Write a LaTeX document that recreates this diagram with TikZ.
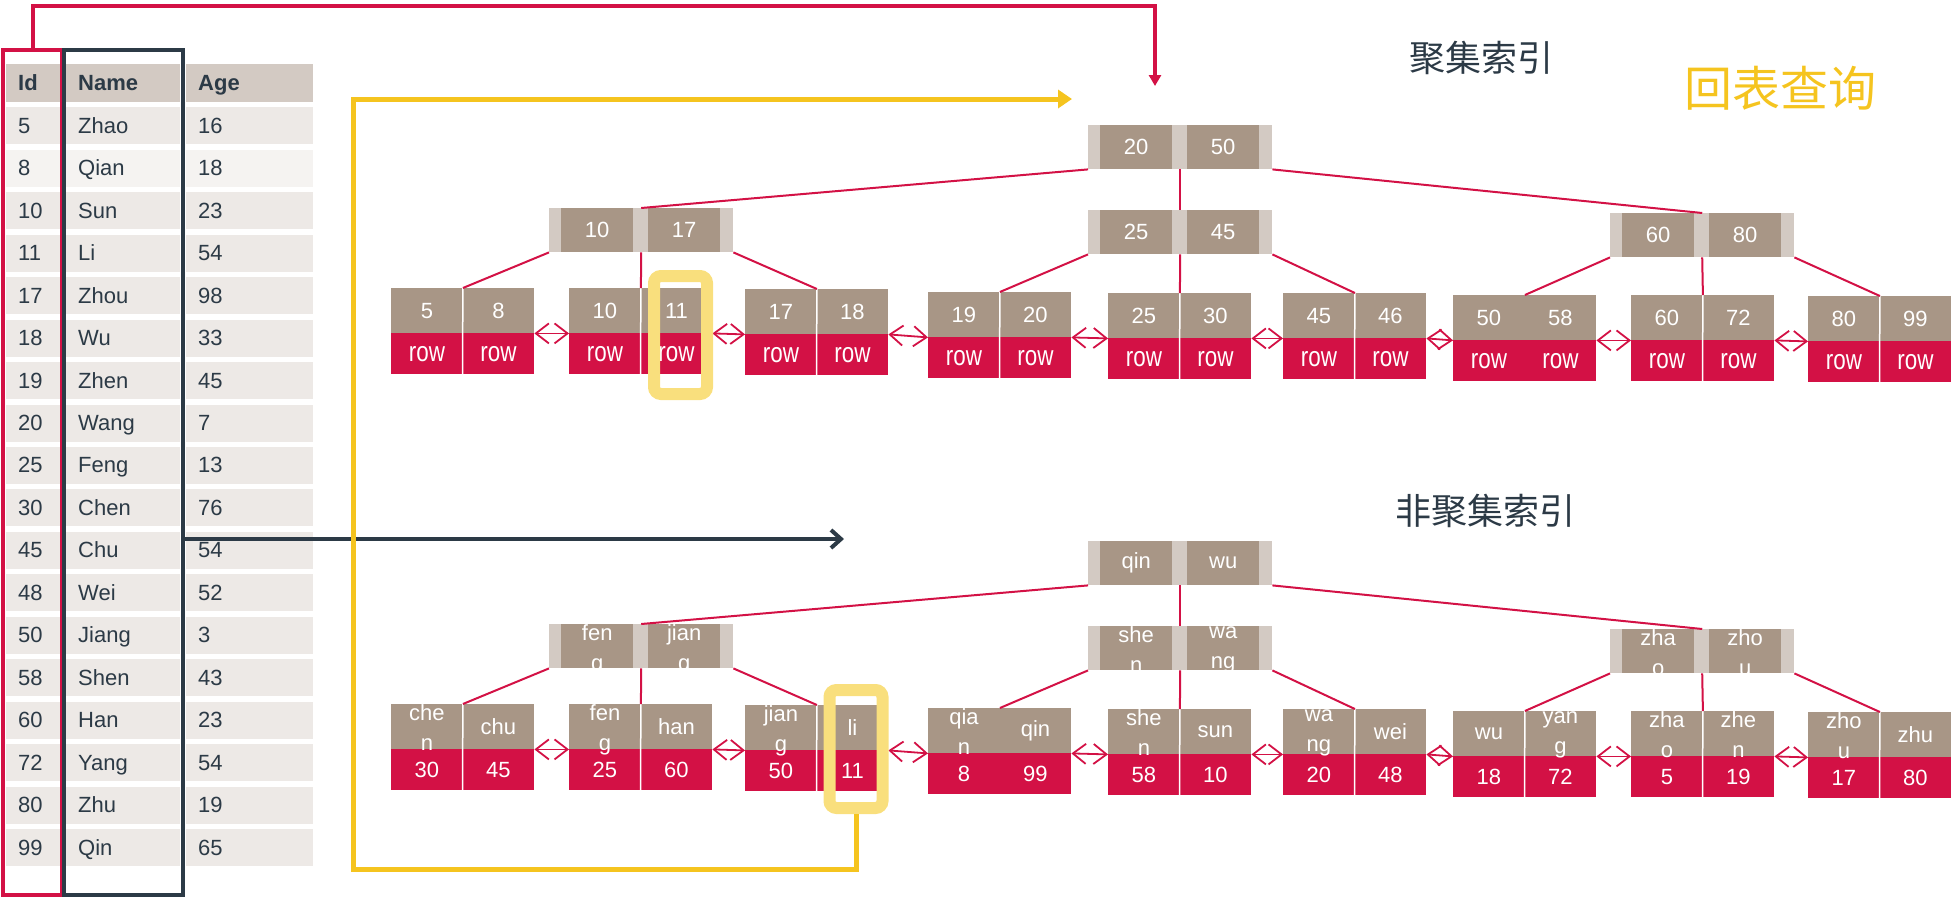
\documentclass[tikz,border=0pt]{standalone}
\usepackage{fontspec}
\usepackage{graphicx}
\setmainfont{Liberation Sans}
\newfontfamily\cjkfont{Noto Sans CJK SC}
\usetikzlibrary{arrows.meta}

\definecolor{crimson}{HTML}{D31145}
\definecolor{keyBrown}{HTML}{A89686}
\definecolor{nodeTan}{HTML}{D3CAC3}
\definecolor{slate}{HTML}{2C3A46}
\definecolor{backYellow}{HTML}{F5C41F}
\definecolor{markYellow}{HTML}{F9DF7D}
\definecolor{rowGray}{HTML}{EDE9E6}
\definecolor{rowLight}{HTML}{F5F3F1}

\newcommand{\tableFont}{\fontsize{22}{26}\selectfont}
\newcommand{\treeFont}{\fontsize{22}{30}\selectfont}
\newcommand{\cellBox}[3]{\vbox to #2pt{\hsize=#1pt\parindent=0pt\vfil\centering #3\par\vfil}}
\newcommand{\rowRef}{\scalebox{0.8}[1]{\fontsize{28}{30}\selectfont row}}

\tikzset{
  headCell/.style={fill=nodeTan, anchor=north west, inner xsep=12pt, inner ysep=0pt,
    minimum height=38pt, text height=15pt, text depth=0pt, align=left,
    text=slate, font=\tableFont\bfseries},
  rowCell/.style={headCell, minimum height=37pt, font=\tableFont},
  idCol/.style={text width=30pt},
  nameCol/.style={text width=90pt},
  ageCol/.style={text width=103pt},
  nodeBack/.style={fill=nodeTan, anchor=north west, inner sep=0pt, minimum width=184pt, minimum height=44pt},
  keyCell/.style={fill=keyBrown, anchor=north west, inner sep=0pt, text=white, font=\treeFont},
  valCell/.style={keyCell, fill=crimson},
  cellGap/.style={draw=white, line width=1.5pt},
  noGap/.style={draw=none},
  treeLink/.style={draw=crimson, line width=2pt},
  leafLink/.style={draw=crimson, line width=1.8pt, <->, >={Straight Barb[length=13pt,width=20pt]}},
  markBox/.style={draw=markYellow, line width=12pt, rounded corners=7pt, minimum width=53pt, minimum height=118pt, inner sep=0pt},
  idFrame/.style={draw=crimson, line width=4pt, minimum width=59pt, minimum height=845pt, inner sep=0pt},
  nameFrame/.style={idFrame, draw=slate, minimum width=119pt},
  idLink/.style={draw=crimson, line width=4pt, -{Triangle[length=11pt,width=12pt]}},
  nameLink/.style={draw=slate, line width=4pt, -{Straight Barb[length=10pt,width=18pt]}},
  backLink/.style={draw=backYellow, line width=5pt, -{Triangle[length=14pt,width=18pt]}},
  titleText/.style={text=slate, font=\fontsize{36}{40}\selectfont\cjkfont, inner sep=0pt},
  backText/.style={text=backYellow, font=\fontsize{48}{52}\selectfont\cjkfont, inner sep=0pt}
}

% inner node: name, left, top, key 1, key 2
\newcommand{\indexNode}[5]{%
  \node[nodeBack] (#1) at (#2,#3) {};
  \node[keyCell] (#1a) at ({#2+12},#3) {\cellBox{72}{44}{#4}};
  \node[keyCell] (#1b) at ({#2+99},#3) {\cellBox{72}{44}{#5}};
}
% leaf: [gap style] name, left, top, key 1, key 2, value 1, value 2
\newcommand{\leafNode}[8][cellGap]{%
  \node[valCell] (#2c) at (#3,{#4+45}) {\cellBox{71.5}{41}{#7}};
  \node[valCell] (#2d) at ({#3+71.5},{#4+45}) {\cellBox{71.5}{41}{#8}};
  \node[keyCell] (#2a) at (#3,#4) {\cellBox{71.5}{45}{#5}};
  \node[keyCell] (#2b) at ({#3+71.5},#4) {\cellBox{71.5}{45}{#6}};
  \draw[#1] (#2a.north east) -- (#2d.south west);
}

\begin{document}
\begin{tikzpicture}[x=1pt, y=-1pt]
    \useasboundingbox (0,0) rectangle (1951,898);

    % table
    \node[headCell, idCol] (idHead) at (6,64) {Id};
    \node[headCell, nameCol] (nameHead) at (66,64) {Name};
    \node[headCell, ageCol] (ageHead) at (186,64) {Age};
    \foreach \id/\name/\age [count=\i] in {5/Zhao/16, 8/Qian/18, 10/Sun/23, 11/Li/54,
        17/Zhou/98, 18/Wu/33, 19/Zhen/45, 20/Wang/7, 25/Feng/13, 30/Chen/76, 45/Chu/54,
        48/Wei/52, 50/Jiang/3, 58/Shen/43, 60/Han/23, 72/Yang/54, 80/Zhu/19, 99/Qin/65} {
      \pgfmathsetmacro{\rowTop}{107+(\i-1)*42.47}
      \ifnum\i=2 \def\rowFill{rowLight}\else\def\rowFill{rowGray}\fi
      \node[rowCell, idCol, fill=\rowFill] (id\i) at (6,\rowTop) {\id};
      \node[rowCell, nameCol, fill=\rowFill] (name\i) at (66,\rowTop) {\name};
      \node[rowCell, ageCol, fill=\rowFill] (age\i) at (186,\rowTop) {\age};
    }

    % column frames
    \node[idFrame] (idFrame) at (32.5,472.5) {};
    \node[nameFrame] (nameFrame) at (123.5,472.5) {};
    \coordinate (redCorner) at (1155,6);
    \coordinate (redTip) at (1155,86);
    \coordinate (darkTip) at (844,539);
    \coordinate (backCorner) at (353,99);
    \coordinate (backTip) at (1072,99);
    \draw[idLink] (idFrame.north) |- (redCorner) -- (redTip);
    \draw[nameLink] (nameFrame.east |- darkTip) -- (darkTip);

    % titles
    \node[titleText] (cTitle) at (1481,58) {聚集索引};
    \node[titleText] (sTitle) at (1485,511) {非聚集索引};
    \node[backText] (backTitle) at (1780,88) {回表查询};

    % clustered index
    \indexNode{cRoot}{1088}{125}{20}{50}
    \indexNode{cLeft}{549}{208}{10}{17}
    \indexNode{cMid}{1088}{210}{25}{45}
    \indexNode{cRight}{1610}{213}{60}{80}
    \leafNode{cLeaf1}{391}{288}{5}{8}{\rowRef}{\rowRef}
    \leafNode{cLeaf2}{569}{288}{10}{11}{\rowRef}{\rowRef}
    \leafNode{cLeaf3}{745}{289}{17}{18}{\rowRef}{\rowRef}
    \leafNode{cLeaf4}{928}{292}{19}{20}{\rowRef}{\rowRef}
    \leafNode{cLeaf5}{1108}{293}{25}{30}{\rowRef}{\rowRef}
    \leafNode{cLeaf6}{1283}{293}{45}{46}{\rowRef}{\rowRef}
    \leafNode[noGap]{cLeaf7}{1453}{295}{50}{58}{\rowRef}{\rowRef}
    \leafNode{cLeaf8}{1631}{295}{60}{72}{\rowRef}{\rowRef}
    \leafNode{cLeaf9}{1808}{296}{80}{99}{\rowRef}{\rowRef}

    % clustered links
    \draw[treeLink] (cRoot.south west) -- (cLeft.north);
    \draw[treeLink] (cRoot.south) -- (cMid.north);
    \draw[treeLink] (cRoot.south east) -- (cRight.north);
    \draw[treeLink] (cLeft.south west) -- (cLeaf1a.north east);
    \draw[treeLink] (cLeft.south) -- (cLeaf2a.north east);
    \draw[treeLink] (cLeft.south east) -- (cLeaf3a.north east);
    \draw[treeLink] (cMid.south west) -- (cLeaf4a.north east);
    \draw[treeLink] (cMid.south) -- (cLeaf5a.north east);
    \draw[treeLink] (cMid.south east) -- (cLeaf6a.north east);
    \draw[treeLink] (cRight.south west) -- (cLeaf7a.north east);
    \draw[treeLink] (cRight.south) -- (cLeaf8a.north east);
    \draw[treeLink] (cRight.south east) -- (cLeaf9a.north east);

    % secondary index
    \indexNode{sRoot}{1088}{541}{qin}{wu}
    \indexNode{sLeft}{549}{624}{fen\\g}{jian\\g}
    \indexNode{sMid}{1088}{626}{she\\n}{wa\\ng}
    \indexNode{sRight}{1610}{629}{zha\\o}{zho\\u}
    \leafNode{sLeaf1}{391}{704}{che\\n}{chu}{30}{45}
    \leafNode{sLeaf2}{569}{704}{fen\\g}{han}{25}{60}
    \leafNode{sLeaf3}{745}{705}{jian\\g}{li}{50}{11}
    \leafNode[noGap]{sLeaf4}{928}{708}{qia\\n}{qin}{8}{99}
    \leafNode{sLeaf5}{1108}{709}{she\\n}{sun}{58}{10}
    \leafNode{sLeaf6}{1283}{709}{wa\\ng}{wei}{20}{48}
    \leafNode{sLeaf7}{1453}{711}{wu}{yan\\g}{18}{72}
    \leafNode{sLeaf8}{1631}{711}{zha\\o}{zhe\\n}{5}{19}
    \leafNode{sLeaf9}{1808}{712}{zho\\u}{zhu}{17}{80}

    % secondary links
    \draw[treeLink] (sRoot.south west) -- (sLeft.north);
    \draw[treeLink] (sRoot.south) -- (sMid.north);
    \draw[treeLink] (sRoot.south east) -- (sRight.north);
    \draw[treeLink] (sLeft.south west) -- (sLeaf1a.north east);
    \draw[treeLink] (sLeft.south) -- (sLeaf2a.north east);
    \draw[treeLink] (sLeft.south east) -- (sLeaf3a.north east);
    \draw[treeLink] (sMid.south west) -- (sLeaf4a.north east);
    \draw[treeLink] (sMid.south) -- (sLeaf5a.north east);
    \draw[treeLink] (sMid.south east) -- (sLeaf6a.north east);
    \draw[treeLink] (sRight.south west) -- (sLeaf7a.north east);
    \draw[treeLink] (sRight.south) -- (sLeaf8a.north east);
    \draw[treeLink] (sRight.south east) -- (sLeaf9a.north east);

    % leaf chains
    \foreach \i [evaluate=\i as \j using int(\i+1)] in {1,...,8} {
      \draw[leafLink] (cLeaf\i b.south east) -- (cLeaf\j a.south west);
      \draw[leafLink] (sLeaf\i b.south east) -- (sLeaf\j a.south west);
    }

    % lookup back to the table
    \node[markBox] (cMark) at (680.5,335) {};
    \node[markBox] (sMark) at (856,749) {};
    \draw[backLink] (sMark.south) -- ++(0,55) -| (backCorner) -- (backTip);
\end{tikzpicture}
\end{document}
